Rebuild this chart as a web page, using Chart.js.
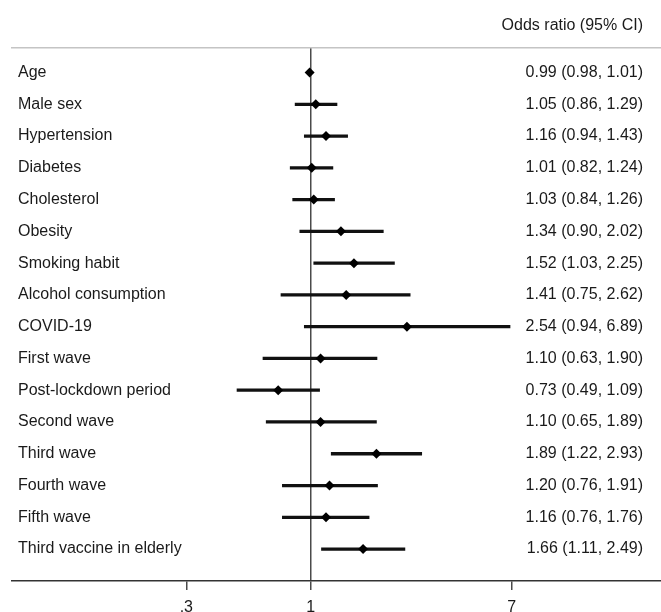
<!DOCTYPE html>
<html><head><meta charset="utf-8">
<script src="https://cdn.jsdelivr.net/npm/chart.js@4/dist/chart.umd.min.js"></script>
<style>
html,body{margin:0;padding:0;background:#fff;}
#wrap{position:relative;width:661px;height:612px;}
#hdr{position:absolute;right:18px;top:15px;font:16px 'Liberation Sans',Arial,sans-serif;color:#1a1a1a;line-height:19px;white-space:nowrap;}
</style></head><body>
<div id="wrap"><canvas id="c"></canvas><div id="hdr"></div></div>
<script>
const labels = ['Age','Male sex','Hypertension','Diabetes','Cholesterol','Obesity','Smoking habit','Alcohol consumption','COVID-19','First wave','Post-lockdown period','Second wave','Third wave','Fourth wave','Fifth wave','Third vaccine in elderly'];
const oddsRatio = [0.99,1.05,1.16,1.01,1.03,1.34,1.52,1.41,2.54,1.10,0.73,1.10,1.89,1.20,1.16,1.66];
const ciLow     = [0.98,0.86,0.94,0.82,0.84,0.90,1.03,0.75,0.94,0.63,0.49,0.65,1.22,0.76,0.76,1.11];
const ciHigh    = [1.01,1.29,1.43,1.24,1.26,2.02,2.25,2.62,6.89,1.90,1.09,1.89,2.93,1.91,1.76,2.49];
const xTickValues = [0.3, 1, 7];
const xTickLabels = ['.3', '1', '7'];
const headerText = 'Odds ratio (95% CI)';

document.getElementById('hdr').textContent = headerText;

const orText = oddsRatio.map((v, i) => `${v.toFixed(2)} (${ciLow[i].toFixed(2)}, ${ciHigh[i].toFixed(2)})`);
const rowIdx = labels.map((_, i) => i);

Chart.defaults.font.family = "'Liberation Sans', Arial, sans-serif";
Chart.defaults.font.size = 16;
Chart.defaults.color = '#1a1a1a';

const zeroPad = s => { s.paddingLeft = 0; s.paddingRight = 0; s.paddingTop = 0; s.paddingBottom = 0; };

const yCommon = {
  type: 'linear', min: -0.771, max: 16.005, reverse: true, offset: false, bounds: 'data',
  grid: { display: false, drawTicks: false, offset: false },
  border: { display: false },
  afterBuildTicks: s => { s.ticks = rowIdx.map(v => ({ value: v })); },
  afterFit: s => { s.width = 0; zeroPad(s); }
};

new Chart(document.getElementById('c'), {
  type: 'bar',
  data: {
    datasets: [
      {
        type: 'scatter',
        order: 0,
        data: oddsRatio.map((v, i) => ({ x: v, y: i })),
        pointStyle: 'rectRot', pointRadius: 5, pointHoverRadius: 5,
        backgroundColor: '#000', borderColor: '#000', borderWidth: 0,
        xAxisID: 'x', yAxisID: 'y'
      },
      {
        type: 'bar',
        order: 1,
        indexAxis: 'y',
        data: ciLow.map((lo, i) => ({ x: [lo, ciHigh[i]], y: i })),
        backgroundColor: '#111', borderWidth: 0,
        barThickness: 2.6, grouped: false,
        xAxisID: 'x', yAxisID: 'y'
      }
    ]
  },
  options: {
    indexAxis: 'y',
    responsive: true, maintainAspectRatio: false, animation: false,
    layout: { autoPadding: false, padding: { left: 12, right: 0, top: 48, bottom: 0 } },
    plugins: { legend: { display: false }, tooltip: { enabled: false } },
    scales: {
      x: {
        type: 'logarithmic', position: 'bottom', min: 0.05546, max: 29.72, offset: false,
        afterBuildTicks: s => { s.ticks = xTickValues.map(v => ({ value: v })); },
        ticks: { padding: 8, color: '#1a1a1a', callback: (v) => xTickLabels[xTickValues.indexOf(v)] ?? '' , autoSkip: false, maxRotation: 0 },
        grid: {
          drawOnChartArea: true, drawTicks: true, tickLength: 9,
          color: c => (c.tick && c.tick.value === 1) ? '#4a4a4a' : 'rgba(0,0,0,0)',
          tickColor: '#4a4a4a', lineWidth: 1.5, tickWidth: 1.5
        },
        border: { display: true, color: '#333', width: 1.5 },
        afterFit: s => { s.height = 31; zeroPad(s); }
      },
      xTop: {
        type: 'linear', position: 'top', min: 0, max: 1,
        ticks: { display: false },
        grid: { display: false, drawTicks: false },
        border: { display: true, color: '#c4c4c4', width: 1.5 },
        afterFit: s => { s.height = 0; zeroPad(s); }
      },
      y: Object.assign({}, yCommon, {
        position: 'left',
        ticks: { mirror: true, padding: 6, color: '#1a1a1a', autoSkip: false,
                 callback: v => labels[v] ?? '' }
      }),
      yR: Object.assign({}, yCommon, {
        position: 'right',
        ticks: { mirror: true, padding: -18, color: '#1a1a1a', autoSkip: false,
                 callback: v => orText[v] ?? '' }
      })
    }
  }
});
</script>
</body></html>
